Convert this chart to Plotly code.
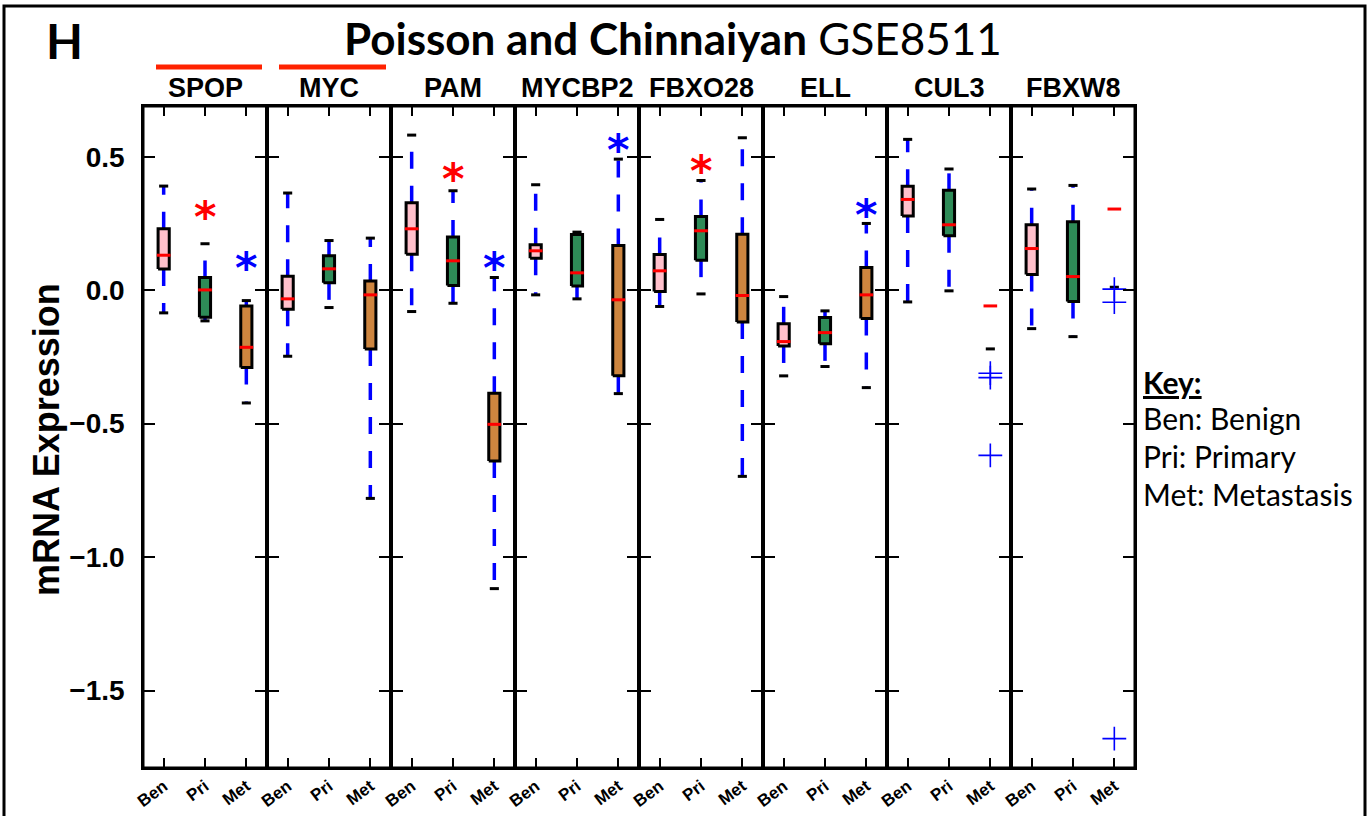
import math
import plotly.graph_objects as go
from plotly.subplots import make_subplots

NaN = float("nan")

genes = ["SPOP", "MYC", "PAM", "MYCBP2", "FBXO28", "ELL", "CUL3", "FBXW8"]
groups = ["Ben", "Pri", "Met"]
group_colors = ["#ffc0cb", "#2e8b57", "#cd853f"]

# per gene: [Ben, Pri, Met]
cap_hi = [
    [0.390, 0.174, -0.039],
    [0.364, 0.186, 0.195],
    [0.581, 0.3725, 0.0475],
    [0.395, 0.2175, 0.491],
    [0.265, 0.411, 0.571],
    [-0.024, -0.0775, 0.250],
    [0.565, 0.454, NaN],
    [0.379, 0.3925, NaN],
]
q3 = [
    [0.230, 0.0475, -0.059],
    [0.0525, 0.129, 0.034],
    [0.3275, 0.199, -0.386],
    [0.170, 0.209, 0.1675],
    [0.134, 0.276, 0.210],
    [-0.126, -0.1025, 0.085],
    [0.389, 0.374, NaN],
    [0.245, 0.256, NaN],
]
median = [
    [0.131, 0.001, -0.214],
    [-0.0325, 0.080, -0.0175],
    [0.230, 0.110, -0.5025],
    [0.1475, 0.065, -0.036],
    [0.0725, 0.2225, -0.020],
    [-0.1925, -0.159, -0.0175],
    [0.340, 0.245, -0.059],
    [0.156, 0.051, 0.304],
]
q1 = [
    [0.079, -0.101, -0.290],
    [-0.071, 0.0275, -0.220],
    [0.135, 0.0175, -0.640],
    [0.120, 0.016, -0.321],
    [-0.005, 0.1125, -0.119],
    [-0.209, -0.201, -0.106],
    [0.2775, 0.204, NaN],
    [0.059, -0.0425, NaN],
]
cap_lo = [
    [-0.085, -0.115, -0.4225],
    [-0.2475, -0.065, -0.780],
    [-0.080, -0.049, -1.118],
    [-0.0175, -0.0325, -0.3875],
    [-0.061, -0.014, -0.6975],
    [-0.321, -0.286, -0.365],
    [-0.044, -0.0025, -0.220],
    [-0.144, -0.174, 0.011],
]

# outliers: (gene index, group index, values)
outlier_gene = [6, 7]
outlier_group = [2, 2]
outlier_vals = [[-0.311, -0.3275, -0.619], [0.004, -0.045, -1.680]]

# significance stars
star_gene = [0, 0, 2, 2, 3, 4, 5]
star_group = [1, 2, 1, 2, 2, 1, 2]
star_y = [0.300, 0.1075, 0.441, 0.111, 0.551, 0.4725, 0.3075]
star_color = ["red", "blue", "red", "blue", "blue", "red", "blue"]

highlight_genes = ["SPOP", "MYC"]

ytick_vals = [0.5, 0.0, -0.5, -1.0, -1.5]
ytick_text = ["0.5", "0.0", "\u22120.5", "\u22121.0", "\u22121.5"]
key_lines = ["<b><u>Key:</u></b>", "Ben: Benign", "Pri: Primary", "Met: Metastasis"]

W, H = 1369, 816
ML, MR, MT, MB = 143, 234, 106, 48
PW = W - ML - MR
PH = H - MT - MB


def px_x(p):
    return (p - ML) / PW


def px_y(p):
    return (H - MB - p) / PH


fig = make_subplots(rows=1, cols=8, shared_yaxes=True, horizontal_spacing=0)

BOX_HW = 0.135
MED_HW = 0.165
CAP_HW = 0.11


def ok(v):
    return v is not None and not (isinstance(v, float) and math.isnan(v))


WHISKER = dict(color="blue", width=3.5, dash="17px,17px")

for gi, g in enumerate(genes):
    col = gi + 1
    for j in range(3):
        x = j + 1
        # whiskers (drawn from box edge to cap)
        if ok(q3[gi][j]) and ok(cap_hi[gi][j]):
            fig.add_trace(go.Scatter(x=[x, x], y=[q3[gi][j], cap_hi[gi][j]], mode="lines",
                                     line=WHISKER, hoverinfo="skip", showlegend=False),
                          row=1, col=col)
        if ok(q1[gi][j]) and ok(cap_lo[gi][j]):
            fig.add_trace(go.Scatter(x=[x, x], y=[q1[gi][j], cap_lo[gi][j]], mode="lines",
                                     line=WHISKER, hoverinfo="skip", showlegend=False),
                          row=1, col=col)
        # box
        if ok(q1[gi][j]) and ok(q3[gi][j]):
            fig.add_trace(go.Scatter(
                x=[x - BOX_HW, x + BOX_HW, x + BOX_HW, x - BOX_HW, x - BOX_HW],
                y=[q1[gi][j], q1[gi][j], q3[gi][j], q3[gi][j], q1[gi][j]],
                mode="lines", fill="toself", fillcolor=group_colors[j],
                line=dict(color="black", width=3), hoverinfo="skip", showlegend=False),
                row=1, col=col)
        # caps
        for cv in (cap_hi[gi][j], cap_lo[gi][j]):
            if ok(cv):
                fig.add_trace(go.Scatter(x=[x - CAP_HW, x + CAP_HW], y=[cv, cv], mode="lines",
                                         line=dict(color="black", width=3),
                                         hoverinfo="skip", showlegend=False), row=1, col=col)
        # median
        if ok(median[gi][j]):
            fig.add_trace(go.Scatter(x=[x - MED_HW, x + MED_HW], y=[median[gi][j]] * 2, mode="lines",
                                     line=dict(color="red", width=3),
                                     hoverinfo="skip", showlegend=False), row=1, col=col)

# outliers
for gi, j, vals in zip(outlier_gene, outlier_group, outlier_vals):
    fig.add_trace(go.Scatter(x=[j + 1] * len(vals), y=vals, mode="markers",
                             marker=dict(symbol="cross-thin-open", size=17, color="blue",
                                         line=dict(color="blue", width=1.6)),
                             cliponaxis=False, hoverinfo="skip", showlegend=False),
                  row=1, col=gi + 1)

AX_LW = 1.5
fig.update_xaxes(range=[0.5, 3.5], tickvals=[1, 2, 3], ticktext=groups, tickangle=-37,
                 tickfont=dict(family="Liberation Sans", size=17, color="black", weight="bold"),
                 ticks="inside", ticklen=10, tickwidth=2, tickcolor="black",
                 showline=True, linewidth=AX_LW, linecolor="black", mirror="ticks",
                 showgrid=False, zeroline=False, fixedrange=True, automargin=False)
fig.update_yaxes(range=[-1.79, 0.69], tickvals=ytick_vals, ticktext=ytick_text,
                 tickfont=dict(family="Liberation Sans", size=28, color="black", weight="bold"),
                 ticks="inside", ticklen=12, tickwidth=2, tickcolor="black",
                 ticklabelstandoff=11,
                 showline=True, linewidth=AX_LW, linecolor="black", mirror="ticks",
                 showgrid=False, zeroline=False, fixedrange=True, automargin=False)

annotations = []
# stars
for gi, j, yv, c in zip(star_gene, star_group, star_y, star_color):
    xr = "x" if gi == 0 else "x%d" % (gi + 1)
    annotations.append(dict(x=j + 1, y=yv, xref=xr, yref="y", text="<b>*</b>", showarrow=False,
                            xanchor="center", yanchor="middle", yshift=-7,
                            font=dict(family="DejaVu Sans", size=43, color=c)))
# gene labels
for gi, g in enumerate(genes):
    xdom = fig.layout["xaxis" + ("" if gi == 0 else str(gi + 1))].domain
    annotations.append(dict(x=(xdom[0] + xdom[1]) / 2, y=px_y(88), xref="paper", yref="paper",
                            text="<b>%s</b>" % g, showarrow=False, xanchor="center", yanchor="middle",
                            font=dict(family="Liberation Sans", size=27, color="black")))
# title
annotations.append(dict(x=px_x(673), y=px_y(38), xref="paper", yref="paper",
                        text="<b>Poisson and Chinnaiyan</b> GSE8511", showarrow=False,
                        xanchor="center", yanchor="middle",
                        font=dict(family="Lato", size=44, color="black")))
annotations.append(dict(x=px_x(64), y=px_y(40), xref="paper", yref="paper",
                        text="<b>H</b>", showarrow=False, xanchor="center", yanchor="middle",
                        font=dict(family="Lato", size=48, color="black")))
# y title
annotations.append(dict(x=px_x(46), y=px_y(440), xref="paper", yref="paper",
                        text="<b>mRNA Expression</b>", showarrow=False, textangle=-90,
                        xanchor="center", yanchor="middle",
                        font=dict(family="Liberation Sans", size=36, color="black")))
# key
key_y = [382, 418, 456, 494]
for t, yy in zip(key_lines, key_y):
    annotations.append(dict(x=px_x(1141), y=px_y(yy), xref="paper", yref="paper",
                            text=t, showarrow=False, xanchor="left", yanchor="middle",
                            font=dict(family="Lato", size=30, color="black")))

shapes = []
# red highlight lines above SPOP and MYC
hl_offsets = {"SPOP": (156, 262), "MYC": (279, 386)}
for g in highlight_genes:
    a, b = hl_offsets[g]
    shapes.append(dict(type="line", xref="paper", yref="paper", x0=px_x(a), x1=px_x(b),
                       y0=px_y(67), y1=px_y(67), line=dict(color="#ff2200", width=5)))
# plot-area outline
shapes.append(dict(type="rect", xref="paper", yref="paper", x0=0, x1=1, y0=0, y1=1,
                   line=dict(color="black", width=3), fillcolor="rgba(0,0,0,0)"))
# outer frame
shapes.append(dict(type="rect", xref="paper", yref="paper", x0=px_x(4), x1=px_x(1365),
                   y0=px_y(830), y1=px_y(6), line=dict(color="black", width=3),
                   fillcolor="rgba(0,0,0,0)", layer="below"))

fig.update_layout(width=W, height=H, autosize=False,
                  margin=dict(l=ML, r=MR, t=MT, b=MB, pad=0, autoexpand=False),
                  paper_bgcolor="white", plot_bgcolor="white",
                  showlegend=False, annotations=annotations, shapes=shapes)

fig.write_html("out.html", config={"displayModeBar": False})
